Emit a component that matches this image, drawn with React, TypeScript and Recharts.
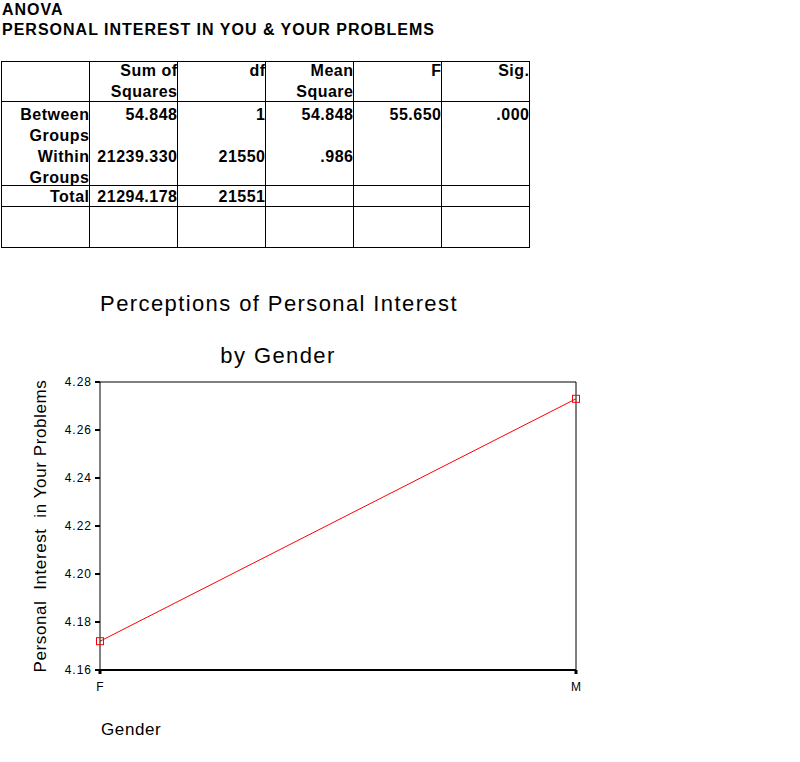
import React from 'react';
import { LineChart, Line, XAxis, YAxis, ReferenceLine } from 'recharts';

// ANOVA table
const colHeads = [[], ['Sum of', 'Squares'], ['df'], ['Mean', 'Square'], ['F'], ['Sig.']];
const rowLabels = ['Between', 'Groups', 'Within', 'Groups'];
const sumSquares = ['54.848', '', '21239.330', ''];
const dfs = ['1', '', '21550', ''];
const meanSquares = ['54.848', '', '.986', ''];
const fValues = ['55.650', '', '', ''];
const sigValues = ['.000', '', '', ''];
const totalRow = ['Total', '21294.178', '21551', '', '', ''];

// chart
const genders = ['F', 'M'];
const meanInterest = [4.172, 4.273];
const yTicks = [4.16, 4.18, 4.2, 4.22, 4.24, 4.26, 4.28];

const data = genders.map((g, i) => ({ gender: g, value: meanInterest[i] }));

const font = '"Liberation Sans", Arial, sans-serif';
const colX = [1, 89, 177, 265, 353, 441, 529];
const rowY = [61, 101, 185, 206, 247];

const SquareDot = (props: any) => {
    const { cx, cy } = props;
    if (cx == null || cy == null) return null;
    return <rect x={cx - 3.5} y={cy - 3.5} width={7} height={7} fill="none" stroke="#ff0000" strokeWidth={1} />;
};

function CellText({ col, top, lines }: { col: number; top: number; lines: string[] }) {
    const left = colX[col] + 1;
    return (
        <div
            style={{
                position: 'absolute',
                left,
                top,
                width: colX[col + 1] - left + 0.5,
                textAlign: 'right',
                fontWeight: 'bold',
                fontSize: 16,
                lineHeight: '21px',
                letterSpacing: 0.5,
                whiteSpace: 'pre',
            }}
        >
            {lines.join('\n')}
        </div>
    );
}

export default function App() {
    const bodyCols = [rowLabels, sumSquares, dfs, meanSquares, fValues, sigValues];

    return (
        <div style={{ position: 'absolute', left: 0, top: 0, width: 800, height: 762, background: '#fff', fontFamily: font, color: '#000' }}>
            <div style={{ position: 'absolute', left: 2, top: 0, fontWeight: 'bold', fontSize: 16, lineHeight: '20px', letterSpacing: 1, whiteSpace: 'nowrap' }}>
                ANOVA
                <br />
                PERSONAL INTEREST IN YOU &amp; YOUR PROBLEMS
            </div>

            {/* table grid */}
            {rowY.map((y) => (
                <div key={'h' + y} style={{ position: 'absolute', left: colX[0], top: y, width: colX[6] - colX[0] + 1, height: 1, background: '#000' }} />
            ))}
            {colX.map((x) => (
                <div key={'v' + x} style={{ position: 'absolute', left: x, top: rowY[0], width: 1, height: rowY[4] - rowY[0] + 1, background: '#000' }} />
            ))}
            {colHeads.map((c, j) => (
                <CellText key={'c' + j} col={j} top={60} lines={c} />
            ))}
            {bodyCols.map((c, j) => (
                <CellText key={'b' + j} col={j} top={104} lines={c} />
            ))}
            {totalRow.map((v, j) => (
                <CellText key={'t' + j} col={j} top={186} lines={[v]} />
            ))}

            <div style={{ position: 'absolute', left: 0, width: 558, top: 289, textAlign: 'center', fontSize: 22, lineHeight: '30px', letterSpacing: 1.4 }}>
                Perceptions of Personal Interest
            </div>
            <div style={{ position: 'absolute', left: 0, width: 556, top: 341, textAlign: 'center', fontSize: 22, lineHeight: '30px', letterSpacing: 1.4 }}>
                by Gender
            </div>
            <div
                style={{
                    position: 'absolute',
                    left: 41,
                    top: 526,
                    transform: 'translate(-50%, -50%) rotate(-90deg)',
                    fontSize: 17,
                    letterSpacing: 0.6,
                    whiteSpace: 'pre',
                }}
            >
                {'Personal  Interest  in Your Problems'}
            </div>
            <div style={{ position: 'absolute', left: 101, top: 720, fontSize: 17, letterSpacing: 0.6 }}>Gender</div>

            <div style={{ position: 'absolute', left: 0, top: 0 }}>
                <LineChart width={800} height={762} data={data} margin={{ top: 382, right: 224, bottom: 62, left: 40 }}>
                    <XAxis
                        dataKey="gender"
                        height={30}
                        axisLine={{ stroke: '#000', strokeWidth: 2 }}
                        tickLine={{ stroke: '#000', strokeWidth: 3 }}
                        tickSize={4}
                        tickMargin={8}
                        tick={{ fill: '#000', fontSize: 12, fontFamily: font }}
                        interval={0}
                    />
                    <YAxis
                        width={60}
                        domain={[4.16, 4.28]}
                        ticks={yTicks}
                        tickFormatter={(v: number) => v.toFixed(2)}
                        axisLine={{ stroke: '#000', strokeWidth: 1 }}
                        tickLine={{ stroke: '#000', strokeWidth: 2 }}
                        tickSize={5}
                        tickMargin={3}
                        tick={{ fill: '#000', fontSize: 12, fontFamily: font, letterSpacing: 1 }}
                        allowDataOverflow
                    />
                    <ReferenceLine y={4.28} stroke="#000" strokeWidth={1} />
                    <ReferenceLine x="M" stroke="#000" strokeWidth={1} />
                    <Line
                        type="linear"
                        dataKey="value"
                        stroke="#ff0000"
                        strokeWidth={1}
                        dot={<SquareDot />}
                        activeDot={false}
                        isAnimationActive={false}
                    />
                </LineChart>
            </div>
        </div>
    );
}
